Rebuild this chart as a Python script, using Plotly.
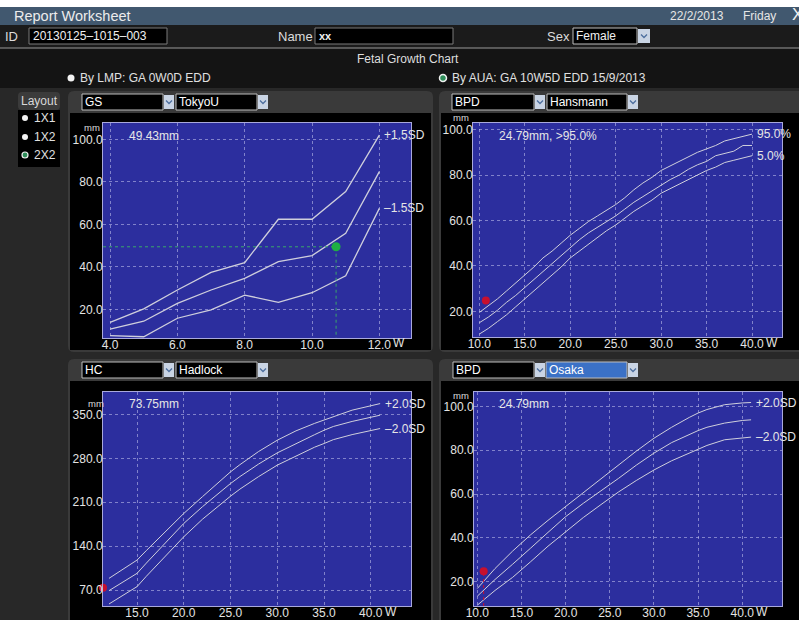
import plotly.graph_objects as go

W, H = 799, 620
FONT = "Liberation Sans, Arial, Helvetica, sans-serif"

# ---------------- data ----------------
GA_WEEKS = 10 + 5 / 7.0   # GA 10W5D

# GS / TokyoU
gs_weeks = [4, 5, 6, 7, 8, 9, 10, 11, 12]
gs_plus15 = [13.9, 20.2, 29.1, 37.4, 42.0, 62.4, 62.4, 75.4, 102.0]
gs_mean = [10.7, 14.4, 22.8, 29.1, 34.6, 42.4, 45.3, 55.8, 84.8]
gs_minus15 = [7.6, 7.1, 15.8, 19.7, 26.7, 23.3, 27.8, 35.8, 67.5]
gs_value = 49.43
gs_xticks = [4, 6, 8, 10, 12]
gs_yticks = [20, 40, 60, 80, 100]

# BPD / Hansmann
han_weeks = list(range(10, 41))
han_p95 = [19.5, 22.5, 25.5, 29.0, 32.5, 36.0, 39.5, 43.5, 46.5, 50.0, 53.5, 56.5, 59.5, 62.0, 64.5,
           67.0, 70.0, 73.5, 76.5, 79.0, 82.0, 84.0, 86.0, 88.0, 90.0, 91.5, 93.0, 95.0, 96.0, 97.0, 98.0]
han_p50 = [15.0, 17.5, 20.5, 24.0, 27.0, 30.5, 34.0, 37.5, 41.0, 44.5, 48.0, 51.5, 54.5, 57.0, 59.5,
           62.0, 65.0, 68.0, 70.5, 73.0, 75.5, 78.0, 80.0, 82.5, 84.5, 86.0, 88.5, 89.5, 90.5, 93.0, 93.0]
han_p5 = [10.0, 12.5, 15.5, 18.5, 22.0, 25.5, 29.0, 32.5, 36.0, 39.5, 43.5, 46.5, 49.5, 52.5, 55.5,
          58.0, 61.0, 64.0, 66.5, 69.0, 72.0, 74.0, 76.0, 78.0, 80.0, 82.0, 83.5, 85.5, 86.5, 87.5, 88.5]
bpd_value = 24.79

# HC / Hadlock
hc_weeks = [12, 14, 15, 16, 18, 20, 22, 24, 25, 26, 28, 30, 32, 34, 35, 36, 38, 40, 41]
hc_plus2 = [88.6, 108, 117.8, 133, 163, 192.2, 219, 246, 258.6, 270, 291, 309.1, 324, 336, 341, 347, 357, 364, 367.5]
hc_mean = [69, 87, 96.6, 113, 145, 176.3, 203, 228, 240, 251, 271, 288.9, 304, 318, 325, 331, 339, 346, 349]
hc_minus2 = [47.7, 66, 75.4, 92, 124, 155, 183, 208, 219.8, 231, 251, 269.3, 284, 298, 303.8, 310, 318, 325, 327.7]
hc_value = 73.75

# BPD / Osaka
osk_weeks = [10, 12, 14, 15, 16, 18, 20, 22, 24, 25, 26, 28, 30, 32, 34, 35, 36, 38, 40, 41]
osk_plus2 = [16.9, 26, 34, 37.8, 41.3, 48, 54.3, 60.8, 67.2, 70.3, 73.5, 79.6, 85.5, 90.5, 95, 97, 98.6, 100.8, 101.6, 101.8]
osk_mean = [13.4, 21, 28, 31.4, 35.2, 42.5, 49.7, 55.8, 61.4, 64.2, 67.2, 73.2, 78.7, 83.5, 87.2, 89, 90.5, 92.4, 93.6, 93.9]
osk_minus2 = [9.3, 16, 22, 25.3, 29, 36.2, 42.9, 49.3, 55.2, 58.1, 61, 66.2, 71, 75.2, 78.8, 80.5, 82.2, 84.8, 85.8, 86]

late_xticks = [10, 15, 20, 25, 30, 35, 40]
hc_xticks = [15, 20, 25, 30, 35, 40]
hc_yticks = [70, 140, 210, 280, 350]
bpd_yticks = [20, 40, 60, 80, 100]

# ---------------- helpers ----------------
def X(p):
    return p / W

def Y(p):
    return 1 - p / H

shapes = []
annotations = []

def rect(x0, y0, x1, y1, fill, line=None, lw=0):
    shapes.append(dict(type="rect", xref="paper", yref="paper", x0=X(x0), x1=X(x1),
                       y0=Y(y1), y1=Y(y0), fillcolor=fill, layer="below",
                       line=dict(color=line or fill, width=lw)))

def rrect(x0, y0, x1, y1, r, fill):
    p = (f"M {X(x0 + r)},{Y(y0)} L {X(x1 - r)},{Y(y0)} Q {X(x1)},{Y(y0)} {X(x1)},{Y(y0 + r)} "
         f"L {X(x1)},{Y(y1 - r)} Q {X(x1)},{Y(y1)} {X(x1 - r)},{Y(y1)} "
         f"L {X(x0 + r)},{Y(y1)} Q {X(x0)},{Y(y1)} {X(x0)},{Y(y1 - r)} "
         f"L {X(x0)},{Y(y0 + r)} Q {X(x0)},{Y(y0)} {X(x0 + r)},{Y(y0)} Z")
    shapes.append(dict(type="path", xref="paper", yref="paper", path=p, fillcolor=fill,
                       line=dict(width=0), layer="below"))

def circle(cx, cy, r, fill, line=None, lw=0):
    shapes.append(dict(type="circle", xref="paper", yref="paper", x0=X(cx - r), x1=X(cx + r),
                       y0=Y(cy + r), y1=Y(cy - r), fillcolor=fill, layer="above",
                       line=dict(color=line or fill, width=lw)))

def text(x, y, s, size=12, color="#e2e2e2", anchor="left"):
    annotations.append(dict(xref="paper", yref="paper", x=X(x), y=Y(y), text=s, showarrow=False,
                            xanchor=anchor, yanchor="middle", borderpad=0,
                            font=dict(family=FONT, size=size, color=color)))

def chevron(cx, cy, color="#4d6f9e"):
    p = f"M {X(cx - 3)},{Y(cy - 1.5)} L {X(cx)},{Y(cy + 1.5)} L {X(cx + 3)},{Y(cy - 1.5)}"
    shapes.append(dict(type="path", xref="paper", yref="paper", path=p,
                       line=dict(color=color, width=1.3), layer="above"))

def dropdown(x0, x1, y0, y1, label, fill="#000000", tcolor="#ffffff"):
    rect(x0, y0, x1 - 11, y1, fill, line="#bdbdbd", lw=1)
    rect(x1 - 10, y0 + 1, x1, y1 - 1, "#c9d4e4")
    chevron(x1 - 5, (y0 + y1) / 2)
    text(x0 + 2, (y0 + y1) / 2, label, size=12, color=tcolor)

# ---------------- chrome / background ----------------
rect(0, 0, W, 7, "#ffffff")
rect(0, 7, W, 25, "#41586f")
rect(0, 25, W, 48, "#1b1b1b")
rect(0, 48, W, 88, "#141414")
rect(0, 88, W, H, "#282828")
shapes.append(dict(type="line", xref="paper", yref="paper", x0=0, x1=1, y0=Y(48), y1=Y(48),
                   line=dict(color="#9a9a9a", width=1), layer="below"))

text(13, 16, "Report Worksheet", size=14.5, color="#ececec")
text(669, 16, "22/2/2013", size=12, color="#e6e6e6")
text(742, 16, "Friday", size=12, color="#e6e6e6")
text(791, 15, "X", size=17, color="#f2f2f2")

text(4, 36, "ID", size=13, color="#dcdcdc")
rect(29, 28, 167, 44, "#000000", line="#7a7a7a", lw=1)
text(32, 36, "20130125–1015–003", size=12, color="#f0f0f0")
text(277, 36, "Name", size=13, color="#dcdcdc")
rect(315, 28, 453, 44, "#000000", line="#7a7a7a", lw=1)
text(318, 36, "<b>xx</b>", size=11, color="#f0f0f0")
text(546, 36, "Sex", size=13, color="#dcdcdc")
rect(573, 28, 637, 44, "#000000", line="#bdbdbd", lw=1)
rect(638, 29, 650, 43, "#c9d4e4")
chevron(644, 36)
text(575, 36, "Female", size=12, color="#f0f0f0")

text(408, 59, "Fetal Growth Chart", size=12, color="#dedede", anchor="center")
circle(71, 78, 3.5, "#f4f4f4")
text(79, 78, "By LMP: GA 0W0D EDD", size=12, color="#e0e0e0")
circle(443, 78, 3.5, "#2f8f5a", line="#f0f0f0", lw=1.5)
text(451, 78, "By AUA: GA 10W5D EDD 15/9/2013", size=12, color="#e0e0e0")

# layout selector
rrect(18, 92, 60, 110, 4, "#3b3b3b")
text(39, 101, "Layout", size=12, color="#d8d8d8", anchor="center")
rect(18, 110, 60, 167, "#000000")
circle(25, 118, 3, "#f4f4f4")
text(33, 118, "1X1", size=12, color="#e0e0e0")
circle(25, 137, 3, "#f4f4f4")
text(33, 137, "1X2", size=12, color="#e0e0e0")
circle(25, 155, 3, "#2f8f5a", line="#f0f0f0", lw=1.2)
text(33, 155, "2X2", size=12, color="#e0e0e0")

# panels
for (px0, py0, px1, py1) in [(68, 91, 433, 352), (439, 91, W + 6, 352),
                             (68, 359, 433, H + 6), (439, 359, W + 6, H + 6)]:
    rrect(px0, py0, px1, py1, 6, "#3a3a3a")
    rect(px0 + 2, py0 + 22, px1 - 2, py1 - 2, "#000000")

dropdown(82, 174, 94, 110, "GS")
dropdown(176, 268, 94, 110, "TokyoU")
dropdown(452, 545, 94, 110, "BPD")
dropdown(547, 638, 94, 110, "Hansmann")
dropdown(82, 174, 362, 378, "HC")
dropdown(176, 268, 362, 378, "Hadlock")
dropdown(453, 545, 362, 378, "BPD")
dropdown(546, 638, 362, 378, "Osaka", fill="#3b71c6")

# ---------------- axes ----------------
PLOT_BG = "#2c2e9e"
LINE = "#cfcfdc"
GRID = "rgba(200,200,240,0.55)"

boxes = {
    1: (103, 123, 411, 338),
    2: (473, 123, 782, 337),
    3: (103, 392, 411, 606),
    4: (474, 392, 782, 606),
}
# plot-area backgrounds (drawn above the panel shapes)
for i in range(1, 5):
    bx0, by0, bx1, by1 = boxes[i]
    rect(bx0, by0, bx1, by1, PLOT_BG)

def fmt(v):
    return f"{v:.1f}"

def ax_common(domain, anchor, tickvals, rng, standoff):
    return dict(domain=domain, anchor=anchor, range=rng, tickmode="array", tickvals=tickvals,
                ticktext=[fmt(v) for v in tickvals], showgrid=True, gridcolor=GRID,
                griddash="dot", gridwidth=1, zeroline=False, showline=True, mirror=True,
                linecolor="#a9a9dc", linewidth=1, ticks="", ticklabelstandoff=standoff,
                automargin=False,
                tickfont=dict(family=FONT, size=12, color="#e4e4e4"), fixedrange=True)

xr = {1: [3.79, 12.94], 2: [9.3, 43.3], 3: [11.36, 44.3], 4: [9.62, 44.5]}
yr = {1: [6.5, 107.7], 2: [8.7, 102.9], 3: [44.5, 386], 4: [8.9, 106.6]}
xt = {1: gs_xticks, 2: late_xticks, 3: hc_xticks, 4: late_xticks}
yt = {1: gs_yticks, 2: bpd_yticks, 3: hc_yticks, 4: bpd_yticks}

layout_axes = {}
for i in range(1, 5):
    x0, y0, x1, y1 = boxes[i]
    sfx = "" if i == 1 else str(i)
    layout_axes["xaxis" + sfx] = ax_common([X(x0), X(x1)], "y" + sfx, xt[i], xr[i], -4)
    layout_axes["yaxis" + sfx] = ax_common([Y(y1), Y(y0)], "x" + sfx, yt[i], yr[i], -3)

fig = go.Figure()

def add_curves(i, xs, series, width=1.0):
    sfx = "" if i == 1 else str(i)
    for ys in series:
        fig.add_trace(go.Scatter(x=xs, y=ys, mode="lines", line=dict(color=LINE, width=width),
                                 xaxis="x" + sfx, yaxis="y" + sfx, hoverinfo="skip"))

add_curves(1, gs_weeks, [gs_plus15, gs_mean, gs_minus15], width=1.3)
add_curves(2, han_weeks, [han_p95, han_p50, han_p5])
add_curves(3, hc_weeks, [hc_plus2, hc_mean, hc_minus2])
add_curves(4, osk_weeks, [osk_plus2, osk_mean, osk_minus2])

# measurement markers
fig.add_trace(go.Scatter(x=[xr[1][0], GA_WEEKS, GA_WEEKS], y=[gs_value, gs_value, yr[1][0]],
                         mode="lines", line=dict(color="#3aa66a", width=1, dash="dot"),
                         xaxis="x", yaxis="y", hoverinfo="skip"))
fig.add_trace(go.Scatter(x=[GA_WEEKS], y=[gs_value], mode="markers",
                         marker=dict(color="#1fb043", size=9), xaxis="x", yaxis="y"))
fig.add_trace(go.Scatter(x=[GA_WEEKS], y=[bpd_value], mode="markers",
                         marker=dict(color="#c8102e", size=8), xaxis="x2", yaxis="y2"))
fig.add_trace(go.Scatter(x=[max(GA_WEEKS, xr[3][0])], y=[hc_value], mode="markers", cliponaxis=False,
                         marker=dict(color="#c8102e", size=8), xaxis="x3", yaxis="y3"))
fig.add_trace(go.Scatter(x=[GA_WEEKS, GA_WEEKS], y=[yr[4][0], bpd_value], mode="lines",
                         line=dict(color="#c8102e", width=1, dash="dot"),
                         xaxis="x4", yaxis="y4", hoverinfo="skip"))
fig.add_trace(go.Scatter(x=[GA_WEEKS], y=[bpd_value], mode="markers",
                         marker=dict(color="#c8102e", size=8), xaxis="x4", yaxis="y4"))

# curve end labels
def end_label(i, xs, ys, s, xshift=3):
    sfx = "" if i == 1 else str(i)
    annotations.append(dict(xref="x" + sfx, yref="y" + sfx, x=xs[-1], y=ys[-1], text=s,
                            showarrow=False, xanchor="left", yanchor="middle", xshift=xshift,
                            font=dict(family=FONT, size=12, color="#e6e6e6")))

end_label(1, gs_weeks, gs_plus15, "+1.5SD")
end_label(1, gs_weeks, gs_minus15, "–1.5SD")
end_label(2, han_weeks, han_p95, "95.0%")
end_label(2, han_weeks, han_p5, "5.0%")
end_label(3, hc_weeks, hc_plus2, "+2.0SD")
end_label(3, hc_weeks, hc_minus2, "–2.0SD")
end_label(4, osk_weeks, osk_plus2, "+2.0SD")
end_label(4, osk_weeks, osk_minus2, "–2.0SD")

# value labels and units
text(128, 136, f"{gs_value:.2f}mm", size=12, color="#e6e6e6")
text(498, 136, f"{bpd_value:.2f}mm, &gt;95.0%", size=12, color="#e6e6e6")
text(128, 404, f"{hc_value:.2f}mm", size=12, color="#e6e6e6")
text(498, 404, f"{bpd_value:.2f}mm", size=12, color="#e6e6e6")

text(83, 127, "mm", size=9.5, color="#dcdcdc")
text(452, 118, "mm", size=9.5, color="#dcdcdc")
text(87, 403, "mm", size=9.5, color="#dcdcdc")
text(452, 395, "mm", size=9.5, color="#dcdcdc")

# " W" unit after last x tick
for i, ypx in [(1, 343), (2, 343), (3, 612), (4, 612)]:
    sfx = "" if i == 1 else str(i)
    annotations.append(dict(xref="x" + sfx, yref="paper", x=xt[i][-1], y=Y(ypx), text="W",
                            showarrow=False, xanchor="left", yanchor="middle", xshift=12,
                            font=dict(family=FONT, size=12, color="#e4e4e4")))

fig.update_layout(
    width=W, height=H, margin=dict(l=0, r=0, t=0, b=0, autoexpand=False),
    paper_bgcolor="#161616", plot_bgcolor=PLOT_BG,
    showlegend=False, shapes=shapes, annotations=annotations,
    **layout_axes,
)

fig.write_html("out.html", config={"displayModeBar": False},
               post_script="document.body.style.margin='0px';")
